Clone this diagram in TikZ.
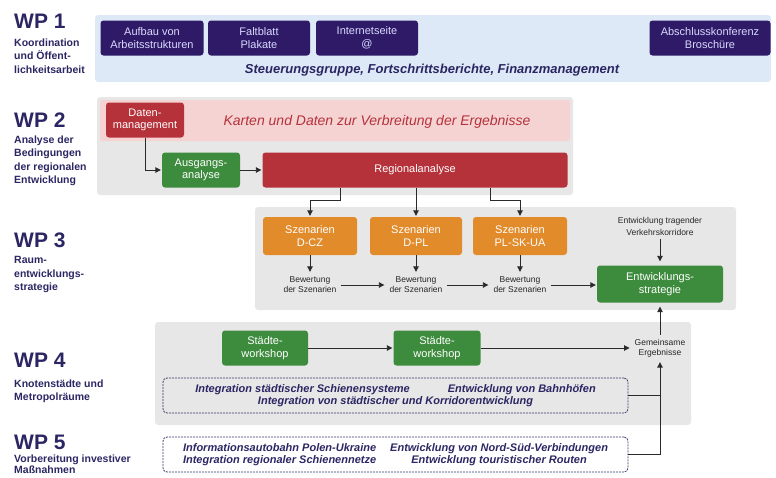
\documentclass[tikz,border=0pt]{standalone}
\usepackage{fontspec}
\setmainfont{Liberation Sans}
\usetikzlibrary{positioning,arrows.meta,calc}

\definecolor{wpblue}{HTML}{2B2663}
\definecolor{boxpurple}{HTML}{2E1A66}
\definecolor{panelblue}{HTML}{DDE9F6}
\definecolor{panelgray}{HTML}{E7E7E7}
\definecolor{bandpink}{HTML}{F6D3D3}
\definecolor{boxred}{HTML}{B5323A}
\definecolor{boxgreen}{HTML}{3D8B3D}
\definecolor{boxorange}{HTML}{E28B2B}
\definecolor{linegray}{HTML}{2A2A2A}

\tikzset{
  wplbl/.style={anchor=base west, inner sep=0pt, text=wpblue,
    font=\bfseries\fontsize{21}{21}\selectfont},
  sublbl/.style={inner sep=0pt, align=left, text=wpblue,
    font=\bfseries\fontsize{10.5}{13.5}\selectfont},
  wpbox/.style={rounded corners=3pt, inner sep=0pt, align=center, text=white,
    font=\fontsize{11}{12.5}\selectfont},
  purplebox/.style={wpbox, fill=boxpurple, text=white!85!blue, minimum height=35},
  redbox/.style={wpbox, fill=boxred, minimum height=35},
  greenbox/.style={wpbox, fill=boxgreen, minimum height=35},
  orangebox/.style={wpbox, fill=boxorange, minimum height=38},
  smalltxt/.style={inner sep=4pt, align=center, text=black!85,
    font=\fontsize{8.5}{10}\selectfont},
  dashbox/.style={draw=wpblue!80!gray, line width=0.8pt, dash pattern=on 2pt off 1pt,
    rounded corners=4pt, minimum width=465, minimum height=35, inner sep=0pt,
    text=wpblue, font=\bfseries\itshape\fontsize{11}{13}\selectfont},
  conn/.style={draw=linegray, line width=0.9pt},
  arr/.style={conn, -{Triangle[length=5.5pt,width=5.5pt]}, shorten >=1pt}
}

\begin{document}
\begin{tikzpicture}[x=1pt,y=-1pt]
\useasboundingbox (0,0) rectangle (776,477);
\clip (0,0) rectangle (776,477);

% panels
\fill[panelblue, rounded corners=3pt] (95,15) rectangle (771,82);
\fill[panelgray, rounded corners=3pt] (97,97) rectangle (573,195);
\fill[bandpink, rounded corners=2pt] (100,100) rectangle (570,141);
\fill[panelgray, rounded corners=3pt] (255,207) rectangle (736,310);
\fill[panelgray, rounded corners=3pt] (155,322) rectangle (691,425);

% work package labels
\node[wplbl] (wp1) at (14,28) {WP 1};
\node[sublbl, below right=10pt and 0pt of wp1.south west] (wp1t) {Koordination\\und Öffent-\\lichkeitsarbeit};
\node[wplbl] (wp2) at (14,127) {WP 2};
\node[sublbl, below right=8pt and 0pt of wp2.south west] (wp2t) {Analyse der\\Bedingungen\\der regionalen\\Entwicklung};
\node[wplbl] (wp3) at (14,247) {WP 3};
\node[sublbl, below right=9pt and 0pt of wp3.south west] (wp3t) {Raum-\\entwicklungs-\\strategie};
\node[wplbl] (wp4) at (14,367) {WP 4};
\node[sublbl, below right=12pt and 0pt of wp4.south west] (wp4t) {Knotenstädte und\\Metropolräume};
\node[wplbl] (wp5) at (14,449) {WP 5};
\node[sublbl, font=\bfseries\fontsize{10.5}{11.5}\selectfont,
  below right=5pt and 0pt of wp5.south west] (wp5t) {Vorbereitung investiver\\Maßnahmen};

% WP 1
\node[purplebox, minimum width=103] (aufbau) at (152,38) {Aufbau von\\Arbeitsstrukturen};
\node[purplebox, minimum width=102] (faltblatt) at (259,38) {Faltblatt\\Plakate};
\node[purplebox, minimum width=102] (internet) at (367,38) {Internetseite\\@};
\node[purplebox, minimum width=121] (abschluss) at (710,38) {Abschlusskonferenz\\Broschüre};
\node[text=wpblue, font=\bfseries\itshape\fontsize{13}{13}\selectfont] (steuer) at (432,70)
  {Steuerungsgruppe, Fortschrittsberichte, Finanzmanagement};

% WP 2
\node[text=boxred, font=\itshape\fontsize{14}{14}\selectfont] (karten) at (377,122)
  {Karten und Daten zur Verbreitung der Ergebnisse};
\node[redbox, minimum width=78] (daten) at (145,120) {Daten-\\management};
\node[greenbox, minimum width=78] (ausgangs) at (201,170) {Ausgangs-\\analyse};
\node[redbox, minimum width=305] (regional) at (415,170) {Regionalanalyse};

% WP 3
\node[orangebox, minimum width=94] (szCZ) at (310,236) {Szenarien\\D-CZ};
\node[orangebox, minimum width=92] (szPL) at (416,236) {Szenarien\\D-PL};
\node[orangebox, minimum width=94] (szPLSK) at (520,236) {Szenarien\\PL-SK-UA};
\node[smalltxt] (bwCZ) at (310,285) {Bewertung\\der Szenarien};
\node[smalltxt] (bwPL) at (416,285) {Bewertung\\der Szenarien};
\node[smalltxt] (bwPLSK) at (520,285) {Bewertung\\der Szenarien};
\node[smalltxt, font=\fontsize{8.5}{12}\selectfont] (korr) at (660,226) {Entwicklung tragender\\Verkehrskorridore};
\node[greenbox, minimum width=126, minimum height=37] (strat) at (660,284) {Entwicklungs-\\strategie};

% WP 4
\node[greenbox, minimum width=86] (sw1) at (265,348) {Städte-\\workshop};
\node[greenbox, minimum width=87] (sw2) at (437,348) {Städte-\\workshop};
\node[smalltxt] (gem) at (660,348) {Gemeinsame\\Ergebnisse};
\node[dashbox] (int4) at (395.5,395.5) {\begin{tabular}{@{}c@{\hspace{38pt}}c@{}}
  Integration städtischer Schienensysteme & Entwicklung von Bahnhöfen\\[-1pt]
  \multicolumn{2}{c}{Integration von städtischer und Korridorentwicklung}\end{tabular}};

% WP 5
\node[dashbox] (int5) at (395.5,454.5) {\begin{tabular}{@{}r@{\hspace{14pt}}c@{}}
  Informationsautobahn Polen-Ukraine & Entwicklung von Nord-Süd-Verbindungen\\[-1pt]
  Integration regionaler Schienennetze & Entwicklung touristischer Routen\end{tabular}};

% connectors
\draw[arr] (daten.south) |- (ausgangs.west);
\draw[arr] (ausgangs) -- (regional);
\draw[arr] ([xshift=-75pt]regional.south) -- ++(0,13) -| (szCZ.north);
\draw[arr] (regional.south -| szPL.north) -- (szPL.north);
\draw[arr] ([xshift=75pt]regional.south) -- ++(0,13) -| (szPLSK.north);
\foreach \sz/\bw in {szCZ/bwCZ, szPL/bwPL, szPLSK/bwPLSK}
  \draw[arr] (\sz) -- (\bw);
\draw[arr] (bwCZ) -- (bwPL);
\draw[arr] (bwPL) -- (bwPLSK);
\draw[arr] (bwPLSK.east) -- (bwPLSK.east -| strat.west);
\draw[arr, shorten >=4pt] (korr) -- (strat);
\draw[arr, shorten >=4pt] (gem) -- (strat);
\draw[arr] (sw1) -- (sw2);
\draw[arr] (sw2) -- (gem);
\draw[conn] (int4.east) -- (int4.east -| gem.south);
\draw[arr] (int5.east) -| (gem.south);
\end{tikzpicture}
\end{document}
